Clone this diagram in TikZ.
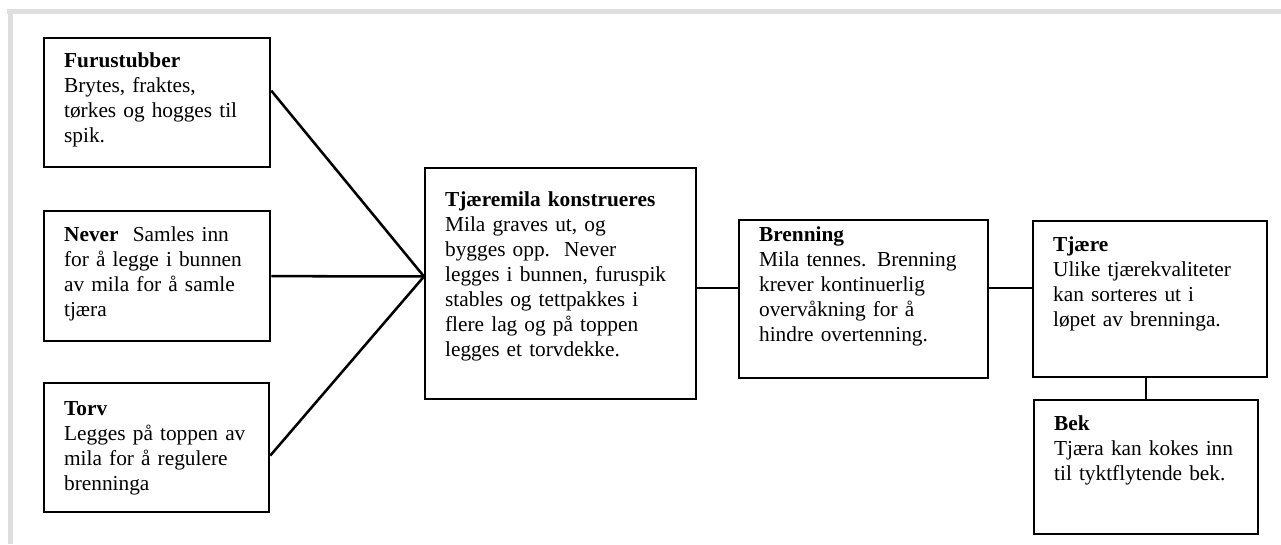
\documentclass[tikz,border=0pt]{standalone}
\usepackage{fontspec}
\setmainfont{Liberation Serif}
\usepackage{tikz}

\tikzset{
  blokk/.style={draw, line width=1.7pt, anchor=north west, align=left,
    inner xsep=15pt, inner ysep=0pt,
    font=\fontsize{16pt}{18.75pt}\selectfont},
  linje/.style={line width=1.9pt},
  ramme/.style={line width=3.75pt, color=gray!25}
}

\begin{document}
\begin{tikzpicture}[x=0.75pt, y=-0.75pt]

\useasboundingbox (0,0) rectangle (1281,544);

\coordinate (F) at (43, 37);
\coordinate (N) at (43, 210);
\coordinate (T) at (43, 382);
\coordinate (M) at (424, 167);
\coordinate (B) at (738, 219);
\coordinate (J) at (1032, 220);
\coordinate (K) at (1033, 399);

\draw[ramme] (7, 11.5) -- (1281, 11.5);
\draw[ramme] (10, 9) -- (10, 544);

\node[blokk, text width=139.5pt, text height=21.75pt, text depth=75pt] (furu) at (F)
  {\textbf{Furustubber}\\ Brytes, fraktes,\\ tørkes og hogges til\\ spik.};
\node[blokk, text width=139.5pt, text height=22.5pt, text depth=75pt] (never) at (N)
  {\textbf{Never}\ \ Samles inn\\ for å legge i bunnen\\ av mila for å samle\\ tjæra};
\node[blokk, text width=138.75pt, text height=24pt, text depth=72.75pt] (torv) at (T)
  {\textbf{Torv}\\ Legges på toppen av\\ mila for å regulere\\ brenninga};
\node[blokk, text width=173.25pt, text height=28.5pt, text depth=144.75pt] (mila) at (M)
  {\textbf{Tjæremila konstrueres}\\ Mila graves ut, og\\ bygges opp.\ \ Never\\ legges i bunnen, furuspik\\ stables og tettpakkes i\\ flere lag og på toppen\\ legges et torvdekke.};
\node[blokk, text width=156.75pt, text height=15.75pt, text depth=102.75pt] (brenning) at (B)
  {\textbf{Brenning}\\ Mila tennes. Brenning\\ krever kontinuerlig\\ overvåkning for å\\ hindre overtenning.};
\node[blokk, text width=145.5pt, text height=22.5pt, text depth=94.5pt] (tjaere) at (J)
  {\textbf{Tjære}\\ Ulike tjærekvaliteter\\ kan sorteres ut i\\ løpet av brenninga.};
\node[blokk, text width=138pt, text height=22.5pt, text depth=78pt] (bek) at (K)
  {\textbf{Bek}\\ Tjæra kan kokes inn\\ til tyktflytende bek.};

\coordinate (samle) at (mila.177);

\draw[linje] (furu.6) -- (samle);
\draw[linje] (never.east) -- (samle);
\draw[linje] (torv.-4) -- (samle);

\draw[linje] (brenning.175) -- (brenning.175 -| mila.east);
\draw[linje] (brenning.5) -- (brenning.5 -| tjaere.west);
\draw[linje] (bek.north) -- (bek.north |- tjaere.south);

\end{tikzpicture}
\end{document}
